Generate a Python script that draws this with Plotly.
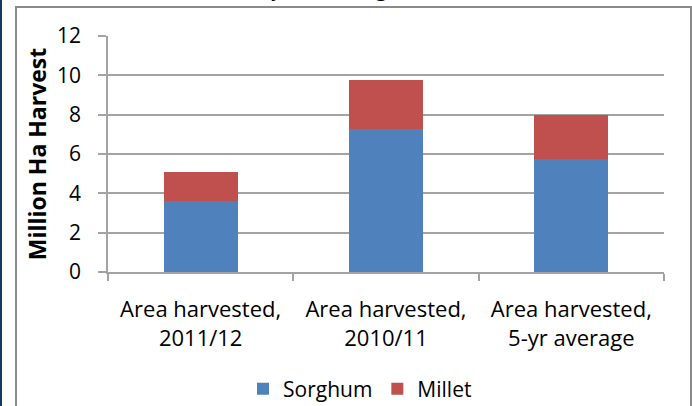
import plotly.graph_objects as go

categories = ["Area harvested,<br>2011/12", "Area harvested,<br>2010/11", "Area harvested,<br>5-yr average"]
sorghum = [3.6, 7.27, 5.75]
millet = [1.5, 2.47, 2.21]
y_ticks = [0, 2, 4, 6, 8, 10, 12]
title_text = "Harvested Area vs. 5-year Average (Million Ha)"

W, H = 692, 406
L, R, T, B = 108, 28, 36, 134
pw, ph = W - L - R, H - T - B

def px(x):
    return (x - L) / pw

def py(y):
    return (H - B - y) / ph

FONT = "Open Sans"
GRID = "#a3a3a3"

fig = go.Figure()
fig.add_trace(go.Bar(name="Sorghum", x=categories, y=sorghum, marker=dict(color="#4F81BD", line=dict(width=0))))
fig.add_trace(go.Bar(name="Millet", x=categories, y=millet, marker=dict(color="#C0504D", line=dict(width=0))))

fig.update_layout(
    width=W, height=H,
    margin=dict(l=L, r=R, t=T, b=B, autoexpand=False),
    barmode="stack", bargap=0.6,
    paper_bgcolor="white", plot_bgcolor="white",
    font=dict(family=FONT, size=21, color="#000000"),
    showlegend=True,
    legend=dict(orientation="h", x=px(360), xanchor="center", y=py(389), yanchor="middle",
                font=dict(size=21, family=FONT), itemwidth=30, traceorder="normal",
                bgcolor="rgba(0,0,0,0)"),
    xaxis=dict(
        showline=True, linecolor=GRID, linewidth=1.5,
        ticks="outside", tickson="boundaries", ticklen=7, tickcolor=GRID, tickwidth=1.5,
        tickfont=dict(size=22, family=FONT), showgrid=False, ticklabelstandoff=17,
        automargin=False,
    ),
    yaxis=dict(
        range=[0, 12], tickvals=y_ticks, showgrid=True, gridcolor=GRID, gridwidth=1.5,
        showline=True, linecolor=GRID, linewidth=1.5,
        ticks="outside", ticklen=8, tickcolor=GRID, tickwidth=1.5,
        tickfont=dict(size=21, family=FONT), ticklabelstandoff=13,
        zeroline=False, automargin=False,
        title=dict(text="<b>Million Ha Harvest</b>", font=dict(size=23, family=FONT), standoff=4),
    ),
    shapes=[
        dict(type="rect", xref="paper", yref="paper", x0=px(16), x1=px(691), y0=py(420), y1=py(7),
             line=dict(color="#8a8a8a", width=2), fillcolor="rgba(0,0,0,0)", layer="below"),
        dict(type="rect", xref="paper", yref="paper", x0=px(-2), x1=px(2), y0=py(420), y1=py(-5),
             line=dict(width=0), fillcolor="#17375e", layer="above"),
    ],
    annotations=[
        dict(text=title_text, xref="paper", yref="paper", x=px(290), y=py(-12), xanchor="center",
             yanchor="middle", showarrow=False, font=dict(size=21, family=FONT, color="#000000")),
    ],
)

fig.write_html("out.html", config={"displayModeBar": False},
               post_script="document.body.style.margin='0px';")
